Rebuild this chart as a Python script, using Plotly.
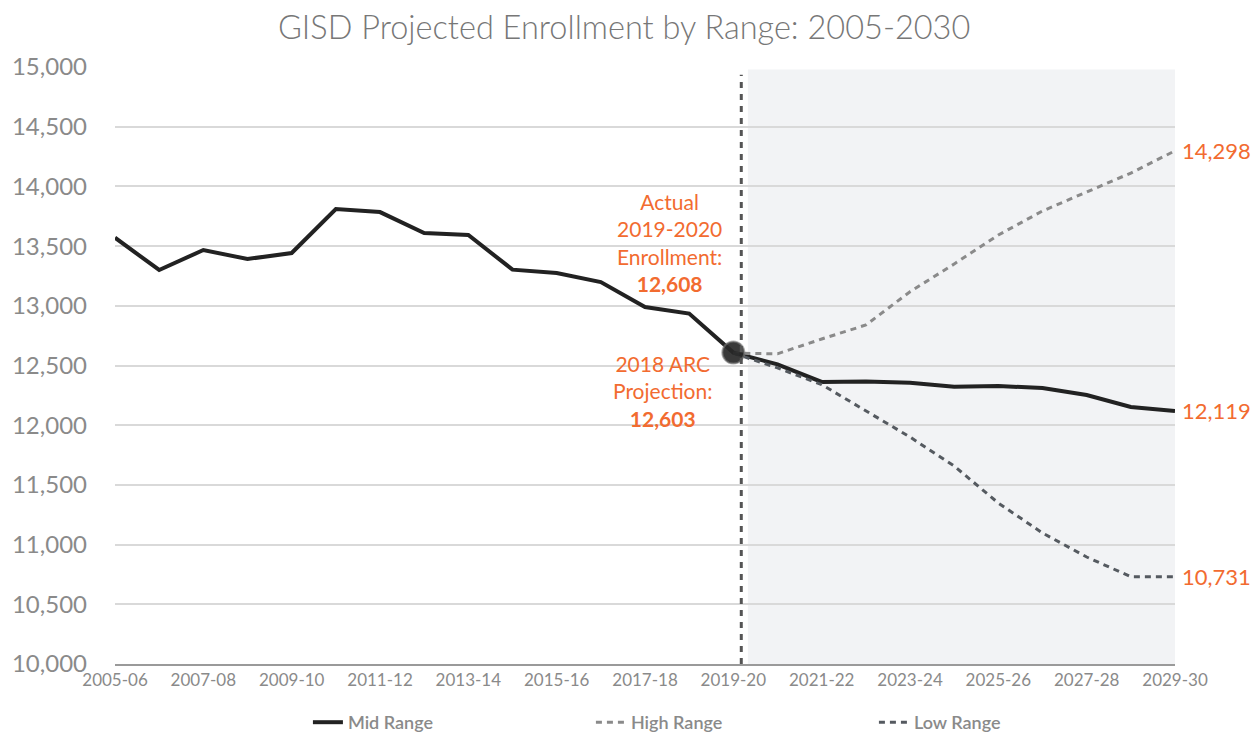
import plotly.graph_objects as go

years = ["2005-06","2006-07","2007-08","2008-09","2009-10","2010-11","2011-12","2012-13",
         "2013-14","2014-15","2015-16","2016-17","2017-18","2018-19","2019-20","2020-21",
         "2021-22","2022-23","2023-24","2024-25","2025-26","2026-27","2027-28","2028-29","2029-30"]
tick_labels = years[::2]

mid_range = [13570, 13300, 13467, 13392, 13442, 13811, 13785, 13610, 13593, 13303, 13275,
             13199, 12990, 12935, 12608, 12510, 12362, 12365, 12355, 12322, 12328, 12311,
             12253, 12152, 12119]
# projections begin at 2019-20 (index 14)
high_range = [12603, 12598, 12722, 12839, 13118, 13350, 13593, 13794, 13953, 14112, 14298]
low_range = [12603, 12480, 12340, 12120, 11901, 11658, 11348, 11097, 10896, 10731, 10731]

actual_text = "Actual<br>2019-2020<br>Enrollment:<br><b>12,608</b>"
arc_text = "2018 ARC<br>Projection:<br><b>12,603</b>"

ORANGE = "#F26B30"
FONT = "Lato"

x_all = list(range(len(years)))
proj_start = years.index("2019-20")
x_proj = x_all[proj_start:]

fig = go.Figure()

fig.add_trace(go.Scatter(x=x_all, y=mid_range, mode="lines", name="Mid Range",
                         line=dict(color="#222222", width=4)))
fig.add_trace(go.Scatter(x=x_proj, y=high_range, mode="lines", name="High Range",
                         line=dict(color="#8a8a8a", width=3, dash="6px,5px")))
fig.add_trace(go.Scatter(x=x_proj, y=low_range, mode="lines", name="Low Range",
                         line=dict(color="#555a60", width=3, dash="6px,5px")))
# 2019-20 actual marker
fig.add_trace(go.Scatter(x=[x_all[proj_start]], y=[mid_range[proj_start]], mode="markers",
                         showlegend=False,
                         marker=dict(size=22, color="rgba(40,40,40,0.92)",
                                     line=dict(color="rgba(120,120,120,0.6)", width=2))))

# shaded projection region
fig.add_shape(type="rect", xref="x", yref="y", x0=proj_start + 0.33, x1=24,
              y0=10000, y1=14980, fillcolor="#f2f3f5", line=dict(width=0), layer="below")
# divider line
fig.add_shape(type="line", xref="x", yref="y", x0=proj_start + 0.18, x1=proj_start + 0.18,
              y0=10000, y1=14935, line=dict(color="#555555", width=3, dash="6px,6px"))

# annotations
fig.add_annotation(x=proj_start - 1.45, y=13530, xref="x", yref="y", text=actual_text,
                   showarrow=False, font=dict(family=FONT, size=21, color=ORANGE),
                   align="center", yanchor="middle")
fig.add_annotation(x=proj_start - 1.6, y=12290, xref="x", yref="y", text=arc_text,
                   showarrow=False, font=dict(family=FONT, size=21, color=ORANGE),
                   align="center", yanchor="middle")
for val in (high_range[-1], mid_range[-1], low_range[-1]):
    fig.add_annotation(x=24, y=val, xref="x", yref="y", text=f"{val:,}", showarrow=False,
                       xanchor="left", xshift=5, font=dict(family=FONT, size=22, color=ORANGE))

fig.update_layout(
    width=1260, height=736,
    margin=dict(l=107, r=93, t=59, b=80, autoexpand=False),
    paper_bgcolor="white", plot_bgcolor="white",
    title=dict(text="GISD Projected Enrollment by Range: 2005-2030", x=0.489, xanchor="center",
               y=0.973, yanchor="middle",
               font=dict(family=FONT, size=32.5, color="#777777", weight=300)),
    font=dict(family=FONT, color="#8a8a8a"),
    legend=dict(orientation="h", x=0.182, xanchor="left", y=-0.067, yanchor="top",
                entrywidth=238, entrywidthmode="pixels",
                font=dict(family=FONT, size=18, color="#8a8a8a", weight=600)),
    showlegend=True,
)
fig.update_xaxes(range=[0, 24], tickvals=x_all[::2], ticktext=tick_labels,
                 showgrid=False, showline=True, linecolor="#9a9a9a", linewidth=1.5,
                 ticks="", tickfont=dict(family=FONT, size=17, color="#8a8a8a"), zeroline=False,
                 automargin=False)
fig.update_yaxes(range=[10000, 15000], dtick=500, tickformat=",", showgrid=True,
                 gridcolor="#d9d9d9", gridwidth=1.5, zeroline=False, ticks="",
                 ticklabelstandoff=27, automargin=False,
                 tickfont=dict(family=FONT, size=24, color="#8a8a8a"))

fig.write_html("out.html")
